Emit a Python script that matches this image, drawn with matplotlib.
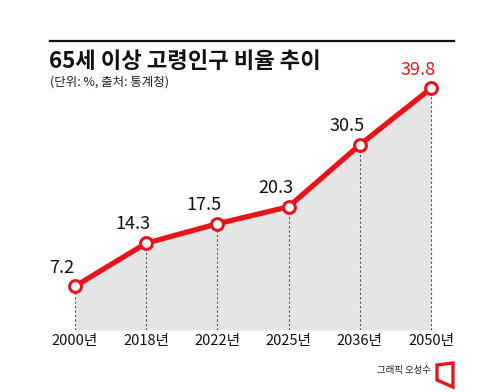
import numpy as np
import matplotlib
matplotlib.use("Agg")
from matplotlib import pyplot as plt
from matplotlib.patches import Polygon

plt.rcParams['font.family'] = ['Noto Sans CJK KR', 'DejaVu Sans']

# data
years = ["2000년", "2018년", "2022년", "2025년", "2036년", "2050년"]
ratio = [7.2, 14.3, 17.5, 20.3, 30.5, 39.8]
label_colors = ["#111111"] * 5 + ["#e8141b"]

red = "#e8141b"
W, H = 500, 392

fig = plt.figure(figsize=(5, 3.92), dpi=100)

# axes in pixel terms: x 50..454, y 330 (zero) .. 60
px = 71.2
x0 = 75
left, right = 50, 454
bottom_px, top_px = 330, 60
ax = fig.add_axes([left / W, (H - bottom_px) / H, (right - left) / W, (bottom_px - top_px) / H])
ax.set_xlim((left - x0) / px, (right - x0) / px)
ax.set_ylim(0, (bottom_px - top_px) / 6.07)
ax.axis("off")

x = np.arange(len(years))
ax.fill_between(x, ratio, 0, color="#e5e5e5", lw=0, zorder=1)
ax.vlines(x, 0, ratio, colors="#555555", linestyles=(0, (2, 2)), lw=0.8, zorder=2)
ax.plot(x, ratio, color=red, lw=3.8, zorder=3, solid_capstyle="round")
ax.plot(x, ratio, "o", ms=8.5, mfc="white", mec=red, mew=2.2, zorder=4)

for xi, v, c in zip(x, ratio, label_colors):
    ax.annotate(f"{v}", (xi, v), xytext=(-9.5, 13.5), textcoords="offset points",
                ha="center", va="center", fontsize=13, color=c)

for xi, lab in zip(x, years):
    fig.text((x0 + xi * px) / W, 1 - 341 / H, lab, ha="center", va="center",
             fontsize=10.5, color="#111111")

# header
fig.add_artist(plt.Line2D([50 / W, 454 / W], [1 - 41 / H, 1 - 41 / H], color="#111111", lw=1.6))
fig.text(49 / W, 1 - 61 / H, "65세 이상 고령인구 비율 추이", ha="left", va="center",
         fontsize=16, fontweight="bold", color="#111111")
fig.text(50 / W, 1 - 82 / H, "(단위: %, 출처: 통계청)", ha="left", va="center",
         fontsize=9, color="#222222")

# footer
fig.text(431 / W, 1 - 371 / H, "그래픽 오성수", ha="right", va="center",
         fontsize=6.8, color="#222222")
logo = [(437, 365), (453, 363), (453, 387), (437, 380)]
fig.add_artist(Polygon([(a / W, 1 - b / H) for a, b in logo], closed=True,
                       fill=False, ec=red, lw=2.4, transform=fig.transFigure))

fig.savefig("out.png", dpi=100)
